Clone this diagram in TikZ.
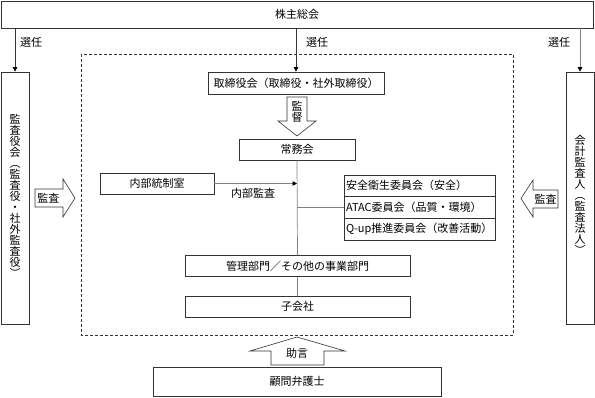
\documentclass[tikz,border=0pt]{standalone}
\usepackage{fontspec}
\setmainfont{Noto Sans CJK JP}
\usetikzlibrary{arrows.meta}
\definecolor{edge}{HTML}{333333}
\definecolor{conn}{HTML}{808080}
\tikzset{
  box/.style={draw=edge, line width=0.7pt, inner sep=0pt, align=center, font=\fontsize{11}{11.5}\selectfont},
  cbox/.style={box, minimum width=151, minimum height=21.7, text width=147pt, inner xsep=2pt, align=left},
  lbl/.style={inner sep=0pt, font=\fontsize{11}{11.5}\selectfont},
  vtext/.style={inner sep=0pt, align=center, font=\fontsize{11}{11}\selectfont},
  conline/.style={draw=conn, line width=0.7pt},
  tip/.style={-{Triangle[length=4.5pt,width=4.5pt,color=black]}},
  blockarrow/.style={draw=edge, line width=0.6pt, fill=white},
}
\begin{document}
\begin{tikzpicture}[x=1pt,y=-1pt]
\useasboundingbox (0,0) rectangle (595,397);
% main boxes
\node[box, minimum width=592, minimum height=27] (sh) at (297,14.5) {株主総会};
\node[box, minimum width=28, minimum height=252] (kansa) at (15,198) {};
\node[vtext] (kansaT) at (15,195.5) {監\\査\\役\\会\\︵\\監\\査\\役\\・\\社\\外\\監\\査\\役\\︶};
\node[box, minimum width=28, minimum height=252] (kaikei) at (580,198) {};
\node[vtext] (kaikeiT) at (580,194.5) {会\\計\\監\\査\\人\\︵\\監\\査\\法\\人\\︶};
% dashed frame
\draw[edge, line width=0.9pt, dash pattern=on 3pt off 2pt] (81,54) rectangle (513,335);
\node[box, minimum width=176, minimum height=22] (board) at (296,83) {取締役会（取締役・社外取締役）};
\node[box, minimum width=116, minimum height=21] (jomu) at (297,149.5) {常務会};
\node[box, minimum width=114, minimum height=21] (naibu) at (157,183.5) {内部統制室};
\node[cbox] (c1) at (419.5,185.8) {\mbox{安全衛生委員会（安全）}};
\node[cbox] (c2) at (419.5,207.5) {\mbox{ATAC委員会（品質・環境）}};
\node[cbox] (c3) at (419.5,229.2) {\mbox{Q-up推進委員会（改善活動）}};
\node[box, minimum width=225, minimum height=21] (kanri) at (297.5,266) {管理部門／その他の事業部門};
\node[box, minimum width=225, minimum height=21] (ko) at (297.5,306.5) {子会社};
\node[box, minimum width=288, minimum height=29] (komon) at (297,381.5) {顧問弁護士};
% 選任 arrows
\draw[conline, draw=edge, tip] (sh.south -| kansa.north) -- (kansa.north);
\draw[conline, draw=edge, tip] (sh.south -| board.north) -- (board.north);
\draw[conline, tip] (sh.south -| kaikei.north) -- (kaikei.north);
\node[lbl] (s1) at (31,42) {選任};
\node[lbl] (s2) at (317,42) {選任};
\node[lbl] (s3) at (559,42) {選任};
% internal lines
\coordinate (j1) at (297,183.5);
\coordinate (j2) at (297,207.5);
\draw[conline] (jomu.south) -- (kanri.north);
\draw[conline] (kanri.south) -- (ko.north);
\draw[conline] (j2) -- (c2.west);
\draw[conline, tip] (naibu.east) -- (j1);
\node[lbl] (naibuL) at (253,193) {内部監査};
% 監督 block arrow (down)
\draw[blockarrow] (287,97) -- (307,97) -- (307,121) -- (316,121) -- (297,136) -- (278,121) -- (287,121) -- cycle;
\node[vtext] (kantoku) at (297,111.5) {監\\督};
% left 監査 arrow (right)
\draw[blockarrow] (35,189) -- (63,189) -- (63,179) -- (75,198) -- (63,217) -- (63,207) -- (35,207) -- cycle;
\node[lbl] (kl) at (48.5,198) {監査};
% right 監査 arrow (left)
\draw[blockarrow] (558,190) -- (533,190) -- (533,180) -- (521,198.5) -- (533,217) -- (533,208) -- (558,208) -- cycle;
\node[lbl] (kr) at (545.5,199) {監査};
% 助言 arrow (up)
\draw[blockarrow] (271,365) -- (324,365) -- (324,351) -- (345,351) -- (297,337) -- (250,351) -- (271,351) -- cycle;
\node[lbl] (jogen) at (297,353) {助言};
\end{tikzpicture}
\end{document}
